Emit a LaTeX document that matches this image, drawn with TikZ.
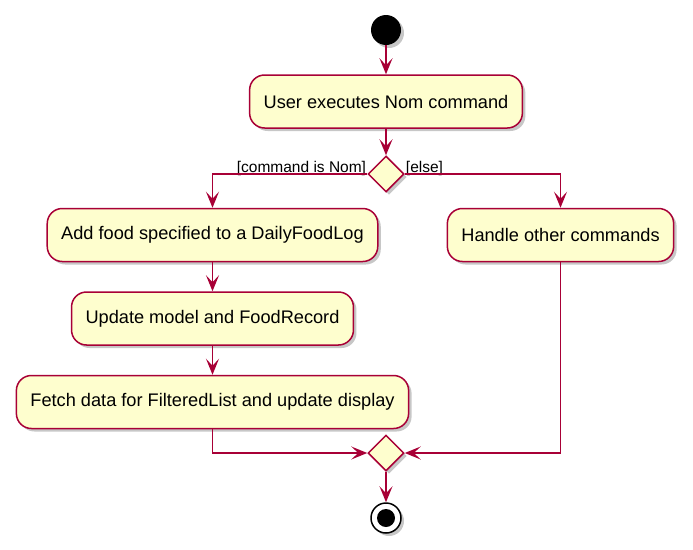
\documentclass[tikz,border=0pt]{standalone}
\usepackage{fontspec}
\setmainfont{Liberation Sans}
\usepackage{xcolor}
\usetikzlibrary{arrows.meta,positioning,shapes.geometric,shadows}
\definecolor{umlred}{HTML}{A80036}
\definecolor{umlfill}{HTML}{FEFECE}
\tikzset{
  shad/.style={drop shadow={shadow xshift=3pt, shadow yshift=-3pt, opacity=0.22, fill=black}},
  actbox/.style={draw=umlred, fill=umlfill, line width=1.5pt, rounded corners=15pt,
                 minimum height=53pt, inner xsep=14pt, align=center,
                 font=\fontsize{18.2}{21}\selectfont, shad},
  branch/.style={diamond, draw=umlred, fill=umlfill, line width=1.5pt, aspect=1,
                 minimum width=36pt, minimum height=36pt, inner sep=0pt, shad},
  guard/.style={font=\fontsize{15.5}{17}\selectfont, inner sep=1pt},
  startdot/.style={circle, fill=black, minimum size=30pt, inner sep=0pt, shad},
  stopdot/.style={circle, draw=black, line width=1.5pt, fill=white, minimum size=30pt,
                  inner sep=0pt, shad,
                  path picture={\fill[black] (path picture bounding box.center) circle (9pt);}},
  flow/.style={-{Stealth[length=16pt,width=13pt,inset=7pt]}, draw=umlred, line width=1.5pt},
}

\begin{document}
\begin{tikzpicture}[x=1pt, y=1pt]
  \useasboundingbox (0,0) rectangle (693,-549);
  \node[startdot] (start) at (386,-30) {};
  \node[actbox] (act1) at (386,-101.5) {User executes Nom command};
  \node[branch] (d1) at (386,-174) {};
  \node[actbox] (act2) at (212.5,-235) {Add food specified to a DailyFoodLog};
  \node[actbox] (act3) at (560.5,-235) {Handle other commands};
  \node[actbox, below=29pt of act2] (act4) {Update model and FoodRecord};
  \node[actbox, below=29pt of act4] (act5) {Fetch data for FilteredList and update display};
  \node[branch] (d2) at (386,-453) {};
  \node[stopdot] (stop) at (386,-518) {};
  % guards
  \node[guard, anchor=base east, yshift=2pt] (g1) at (d1.west) {[command is Nom]};
  \node[guard, anchor=base west, yshift=2pt] (g2) at (d1.east) {[else]};
  \draw[flow] (start) -- (act1);
  \draw[flow] (act1) -- (d1);
  \draw[flow] (d1.west) -| (act2);
  \draw[flow] (d1.east) -| (act3);
  \draw[flow] (act2) -- (act4);
  \draw[flow] (act4) -- (act5);
  \draw[flow] (act5) |- (d2.west);
  \draw[flow] (act3) |- (d2.east);
  \draw[flow] (d2) -- (stop);
\end{tikzpicture}
\end{document}
